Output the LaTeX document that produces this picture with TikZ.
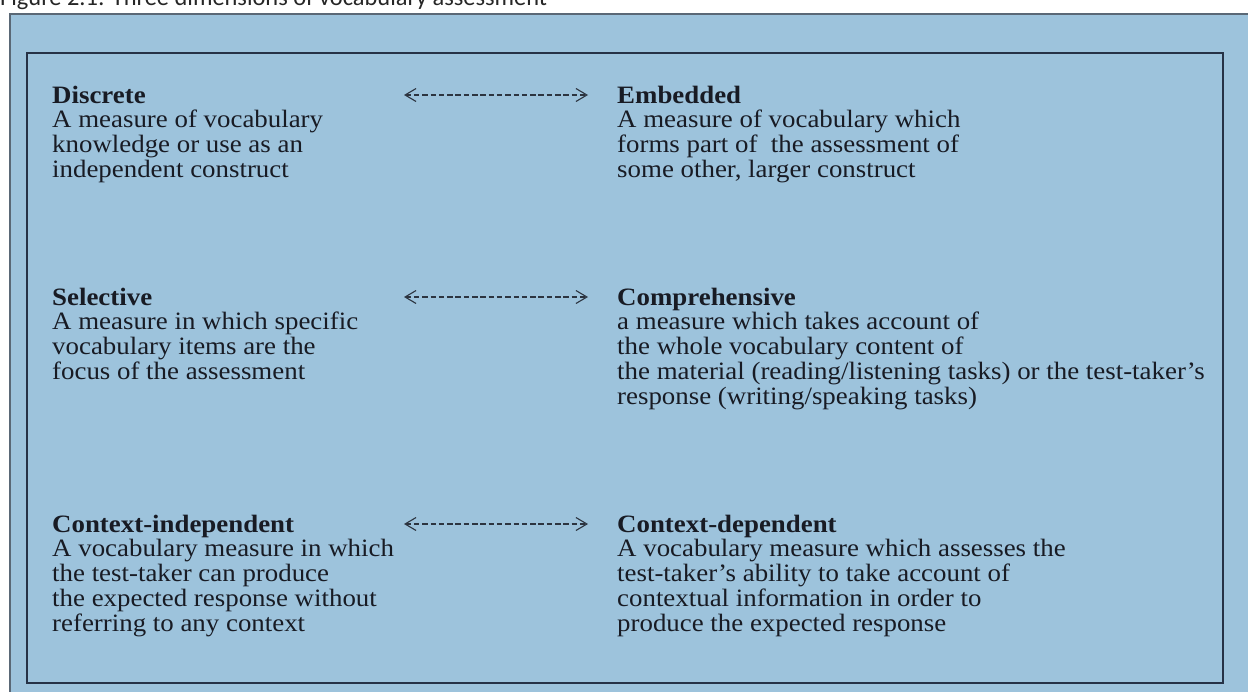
\documentclass[tikz,border=0pt]{standalone}
\usepackage{fontspec}
\setmainfont{Liberation Serif}[FakeStretch=1.075]
\newfontfamily\capfont{Carlito}
\usetikzlibrary{arrows.meta}
\definecolor{bgblue}{RGB}{157,195,220}
\definecolor{outerline}{RGB}{90,104,118}
\definecolor{innerline}{RGB}{38,50,70}
\definecolor{txt}{RGB}{24,27,36}
\tikzset{
  block/.style={anchor=base west, inner sep=0pt, text=txt,
    font=\fontsize{25}{24.6}\selectfont},
  dimarrow/.style={draw=txt!85!bgblue, line width=1.1pt,
    dash pattern=on 5.5pt off 2.8pt,
    {Straight Barb[length=11pt,width=13pt,line width=1.1pt]}-{Straight Barb[length=11pt,width=13pt,line width=1.1pt]}},
}
\newcommand{\blk}[1]{\begin{tabular}[t]{@{}l@{}}#1\end{tabular}}
\begin{document}
\begin{tikzpicture}[x=1pt,y=-1pt]
\useasboundingbox (0,0) rectangle (1248,691);
\fill[white] (0,0) rectangle (1248,691);
% caption (clipped at top of page)
\node[anchor=base west, inner sep=0pt, font=\capfont\fontsize{24.4}{28}\selectfont, text=black!85] (cap) at (0,5) {Figure 2.1: Three dimensions of vocabulary assessment};
% outer blue panel
\fill[bgblue] (10,14) rectangle (1260,700);
\draw[outerline, line width=2.5pt] (10,700) -- (10,14) -- (1260,14);
% inner frame
\draw[innerline, line width=2.4pt] (27,53) rectangle (1223,683);
% row 1
\node[block] (discrete) at (52,103) {\blk{\textbf{Discrete}\\A measure of vocabulary\\knowledge or use as an\\independent construct}};
\node[block] (embedded) at (617,103) {\blk{\textbf{Embedded}\\A measure of vocabulary which\\forms part of\ \ the assessment of\\some other, larger construct}};
% row 2
\node[block] (selective) at (52,305) {\blk{\textbf{Selective}\\A measure in which specific\\vocabulary items are the\\focus of the assessment}};
\node[block] (comprehensive) at (617,305) {\blk{\textbf{Comprehensive}\\a measure which takes account of\\the whole vocabulary content of\\the material (reading/listening tasks) or the test-taker's\\response (writing/speaking tasks)}};
% row 3
\node[block] (ctxindep) at (52,532) {\blk{\textbf{Context-independent}\\A vocabulary measure in which\\the test-taker can produce\\the expected response without\\referring to any context}};
\node[block] (ctxdep) at (617,532) {\blk{\textbf{Context-dependent}\\A vocabulary measure which assesses the\\test-taker's ability to take account of\\contextual information in order to\\produce the expected response}};
% arrows
\coordinate (a1l) at (404,95);  \coordinate (a1r) at (588,95);
\coordinate (a2l) at (404,297); \coordinate (a2r) at (588,297);
\coordinate (a3l) at (404,524); \coordinate (a3r) at (588,524);
\draw[dimarrow] (a1l) -- (a1r);
\draw[dimarrow] (a2l) -- (a2r);
\draw[dimarrow] (a3l) -- (a3r);
\end{tikzpicture}
\end{document}
